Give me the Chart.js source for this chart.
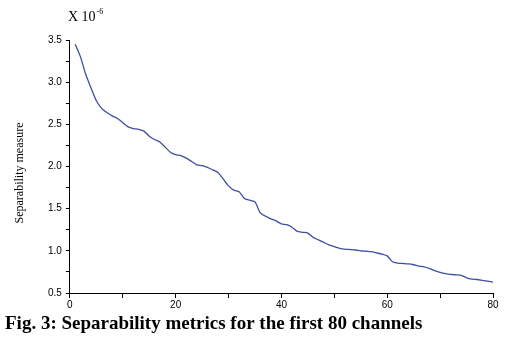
<!DOCTYPE html>
<html>
<head>
<meta charset="utf-8">
<script src="https://cdn.jsdelivr.net/npm/chart.js@4.4.1/dist/chart.umd.min.js"></script>
<style>
  html, body { margin: 0; padding: 0; background: #fff; }
  #wrap { width: 509px; height: 344px; position: relative; }
</style>
</head>
<body>
<div id="wrap"><canvas id="c"></canvas></div>
<script>
// 채널 번호 (1..80)
const channels = [
  1, 2, 3, 4, 5, 6, 7, 8, 9, 10,
  11, 12, 13, 14, 15, 16, 17, 18, 19, 20,
  21, 22, 23, 24, 25, 26, 27, 28, 29, 30,
  31, 32, 33, 34, 35, 36, 37, 38, 39, 40,
  41, 42, 43, 44, 45, 46, 47, 48, 49, 50,
  51, 52, 53, 54, 55, 56, 57, 58, 59, 60,
  61, 62, 63, 64, 65, 66, 67, 68, 69, 70,
  71, 72, 73, 74, 75, 76, 77, 78, 79, 80
];

// 분리도 값 (x 10^-6), 그림에서 읽은 값
const separability = [
  3.45, 3.30, 3.09, 2.93, 2.78, 2.69, 2.64, 2.60, 2.57, 2.52,
  2.47, 2.45, 2.44, 2.42, 2.36, 2.32, 2.29, 2.23, 2.17, 2.14,
  2.13, 2.10, 2.06, 2.02, 2.01, 1.99, 1.96, 1.93, 1.85, 1.77,
  1.72, 1.70, 1.62, 1.60, 1.58, 1.45, 1.41, 1.38, 1.355, 1.32,
  1.31, 1.28, 1.23, 1.22, 1.21, 1.16, 1.13, 1.10, 1.07, 1.05,
  1.03, 1.02, 1.015, 1.01, 1.00, 0.995, 0.99, 0.975, 0.96, 0.94,
  0.87, 0.855, 0.85, 0.845, 0.835, 0.82, 0.81, 0.79, 0.765, 0.745,
  0.73, 0.72, 0.715, 0.71, 0.68, 0.665, 0.66, 0.65, 0.64, 0.63
];

// 눈금 라벨
const xTickLabels = [0, 20, 40, 60, 80];
const yTickLabels = ['0.5', '1.0', '1.5', '2.0', '2.5', '3.0', '3.5'];

const captionText = 'Fig. 3: Separability metrics for the first 80 channels';
const yTitleText = 'Separability measure';

// 텍스트 (배율, y축 제목, 캡션) 그리기
const textPlugin = {
  id: 'texts',
  afterDraw(chart) {
    const ctx = chart.ctx;
    const area = chart.chartArea;
    ctx.save();
    ctx.fillStyle = '#000';
    // X 10^-6
    ctx.font = '14px "Liberation Serif"';
    ctx.textBaseline = 'alphabetic';
    ctx.textAlign = 'left';
    ctx.fillText('X 10', area.left - 2, 21);
    const w = ctx.measureText('X 10').width;
    ctx.font = '8px "Liberation Serif"';
    ctx.fillText('-6', area.left - 2 + w + 1, 14);
    // y축 제목
    ctx.font = '12px "Liberation Serif"';
    ctx.translate(20, 173);
    ctx.rotate(-Math.PI / 2);
    ctx.textAlign = 'center';
    ctx.textBaseline = 'middle';
    ctx.fillText(yTitleText, 0, 0);
    ctx.restore();
    // 캡션
    ctx.save();
    ctx.fillStyle = '#000';
    ctx.font = 'bold 19px "Liberation Serif"';
    ctx.textAlign = 'left';
    ctx.textBaseline = 'middle';
    ctx.fillText(captionText, 5, 324);
    ctx.restore();
  }
};

new Chart(document.getElementById('c'), {
  type: 'line',
  data: {
    labels: channels,
    datasets: [{
      data: separability,
      borderColor: '#3f4fa0',
      borderWidth: 1.3,
      pointRadius: 0,
      tension: 0.2,
      fill: false
    }]
  },
  options: {
    responsive: true,
    maintainAspectRatio: false,
    animation: false,
    layout: { padding: { left: 44, right: 16, top: 40, bottom: 32 } },
    plugins: {
      legend: { display: false },
      tooltip: { enabled: false }
    },
    scales: {
      x: {
        type: 'linear',
        min: 0,
        max: 80,
        border: { display: true, color: '#000', width: 1 },
        grid: { drawOnChartArea: false, tickColor: '#000', tickLength: 5 },
        ticks: {
          stepSize: 10,
          maxRotation: 0,
          autoSkip: false,
          padding: 1,
          color: '#000',
          font: { family: 'Liberation Sans', size: 10 },
          callback: (v) => xTickLabels.includes(v) ? String(v) : ''
        }
      },
      y: {
        min: 0.5,
        max: 3.5,
        border: { display: true, color: '#000', width: 1 },
        grid: { drawOnChartArea: false, tickColor: '#000', tickLength: 4 },
        ticks: {
          stepSize: 0.25,
          autoSkip: false,
          padding: 4,
          color: '#000',
          font: { family: 'Liberation Sans', size: 10 },
          callback: (v) => {
            const s = v.toFixed(1);
            return (Math.abs(v * 2 - Math.round(v * 2)) < 1e-6 && yTickLabels.includes(s)) ? s : '';
          }
        }
      }
    }
  },
  plugins: [textPlugin]
});
</script>
</body>
</html>
